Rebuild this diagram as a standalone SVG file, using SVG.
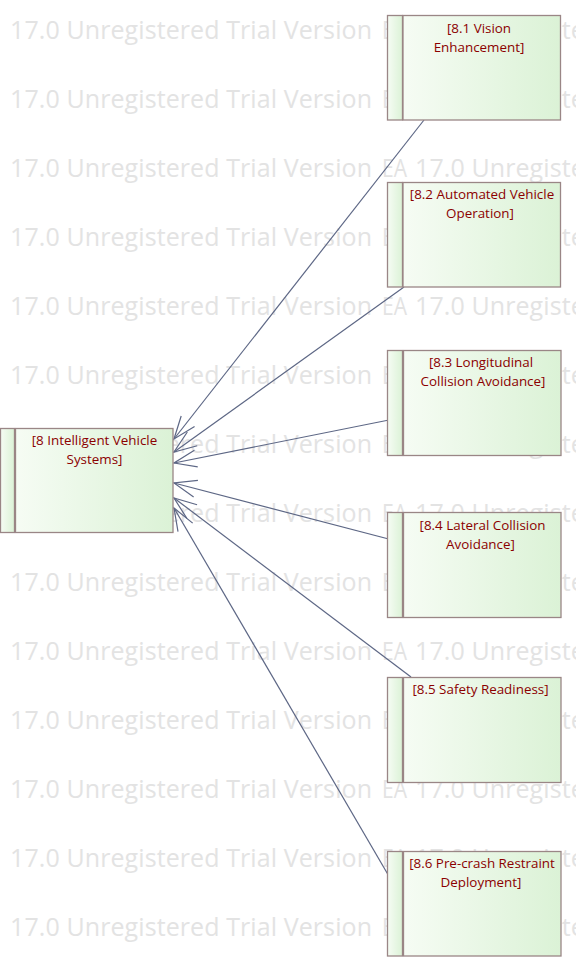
<svg xmlns="http://www.w3.org/2000/svg" xmlns:xlink="http://www.w3.org/1999/xlink" width="576" height="971" viewBox="0 0 576 971">
<style>
.wm{font-family:"Open Sans","Noto Sans",sans-serif;font-size:25px;fill:#e3e3e3}
.box{stroke:#9a8686;stroke-width:1.3;fill:url(#g)}
.lbl{font-family:"Open Sans","Noto Sans",sans-serif;font-size:13.4px;fill:#8b0000;text-anchor:middle}
.con{stroke:#5d6785;stroke-width:1.2;fill:none;marker-end:url(#arr)}
</style>
<defs>
<linearGradient id="g" x1="0" y1="0" x2="1" y2="0">
<stop offset="0" stop-color="#f6fcf4"/>
<stop offset="1" stop-color="#dbf2d6"/>
</linearGradient>
<marker id="arr" markerUnits="userSpaceOnUse" markerWidth="30" markerHeight="24" viewBox="-26 -12 28 24" refX="0" refY="0" orient="auto" overflow="visible">
<path d="M -22.5 -8.5 L 0 0 L -22.5 8.5" fill="none" stroke="#5d6785" stroke-width="1.2"/>
</marker>
<g id="wmrow">
<text class="wm" x="-29" y="0" textLength="25" lengthAdjust="spacingAndGlyphs">EA</text>
<text class="wm" x="10" y="0" textLength="362" lengthAdjust="spacing">17.0 Unregistered Trial Version</text>
<text class="wm" x="382" y="0" textLength="25" lengthAdjust="spacingAndGlyphs">EA</text>
<text class="wm" x="415" y="0" textLength="362" lengthAdjust="spacing">17.0 Unregistered Trial Version</text>
</g>
</defs>
<rect width="576" height="971" fill="#ffffff"/>
<g id="watermark">
<use xlink:href="#wmrow" href="#wmrow" y="38.5"/>
<use xlink:href="#wmrow" href="#wmrow" y="107.5"/>
<use xlink:href="#wmrow" href="#wmrow" y="176.5"/>
<use xlink:href="#wmrow" href="#wmrow" y="245.5"/>
<use xlink:href="#wmrow" href="#wmrow" y="314.5"/>
<use xlink:href="#wmrow" href="#wmrow" y="383.5"/>
<use xlink:href="#wmrow" href="#wmrow" y="452.5"/>
<use xlink:href="#wmrow" href="#wmrow" y="521.5"/>
<use xlink:href="#wmrow" href="#wmrow" y="590.5"/>
<use xlink:href="#wmrow" href="#wmrow" y="659.5"/>
<use xlink:href="#wmrow" href="#wmrow" y="728.5"/>
<use xlink:href="#wmrow" href="#wmrow" y="797.5"/>
<use xlink:href="#wmrow" href="#wmrow" y="866.5"/>
<use xlink:href="#wmrow" href="#wmrow" y="935.5"/>
</g>
<g id="connectors">
<line class="con" x1="424" y1="120" x2="174" y2="439"/>
<line class="con" x1="404" y1="287" x2="174" y2="452"/>
<line class="con" x1="404" y1="417" x2="174" y2="463"/>
<line class="con" x1="404" y1="543" x2="174" y2="483"/>
<line class="con" x1="411" y1="677" x2="174" y2="498"/>
<line class="con" x1="404" y1="902" x2="174" y2="508"/>
</g>
<g id="n8">
<rect class="box" x="0.5" y="428.5" width="14" height="104"/>
<rect class="box" x="15.5" y="428.5" width="157.5" height="104"/>
<text class="lbl" x="94.5" y="445">[8 Intelligent Vehicle</text>
<text class="lbl" x="94.5" y="464">Systems]</text>
</g>
<g id="n8_1">
<rect class="box" x="387.5" y="15.5" width="15" height="104.5"/>
<rect class="box" x="403" y="15.5" width="157.5" height="104.5"/>
<text class="lbl" x="479" y="32.5">[8.1 Vision</text>
<text class="lbl" x="479" y="51.5">Enhancement]</text>
</g>
<g id="n8_2">
<rect class="box" x="387.5" y="182.5" width="15" height="104.5"/>
<rect class="box" x="403" y="182.5" width="157.5" height="104.5"/>
<text class="lbl" x="482" y="198.5">[8.2 Automated Vehicle</text>
<text class="lbl" x="480" y="217.5">Operation]</text>
</g>
<g id="n8_3">
<rect class="box" x="387.5" y="350.5" width="15" height="105"/>
<rect class="box" x="403.5" y="350.5" width="157.5" height="105"/>
<text class="lbl" x="481" y="367">[8.3 Longitudinal</text>
<text class="lbl" x="483" y="386">Collision Avoidance]</text>
</g>
<g id="n8_4">
<rect class="box" x="387.5" y="512.5" width="15" height="105"/>
<rect class="box" x="403.5" y="512.5" width="157.5" height="105"/>
<text class="lbl" x="482.5" y="529.5">[8.4 Lateral Collision</text>
<text class="lbl" x="480.5" y="548.5">Avoidance]</text>
</g>
<g id="n8_5">
<rect class="box" x="387.5" y="677.5" width="15" height="105"/>
<rect class="box" x="403.5" y="677.5" width="157.5" height="105"/>
<text class="lbl" x="480.5" y="694">[8.5 Safety Readiness]</text>
</g>
<g id="n8_6">
<rect class="box" x="387.5" y="851.5" width="15" height="104.5"/>
<rect class="box" x="403.5" y="851.5" width="157.5" height="104.5"/>
<text class="lbl" x="482" y="868">[8.6 Pre-crash Restraint</text>
<text class="lbl" x="481" y="887">Deployment]</text>
</g>
</svg>
